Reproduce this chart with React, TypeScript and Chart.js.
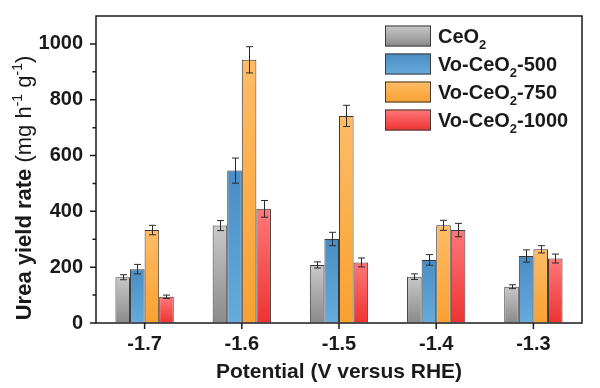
import React, { useEffect, useRef } from 'react';
import { Chart, registerables } from 'chart.js';

Chart.register(...registerables);

// ---- data ----
const categories = ['-1.7', '-1.6', '-1.5', '-1.4', '-1.3'];
const seriesNames = ['CeO₂', 'Vo-CeO₂-500', 'Vo-CeO₂-750', 'Vo-CeO₂-1000'];
const ceo2 = [164, 349, 208, 166, 130];
const ceo2Err = [9, 18, 11, 10, 7];
const vo500 = [193, 546, 301, 226, 240];
const vo500Err = [17, 45, 24, 19, 22];
const vo750 = [333, 943, 742, 350, 264];
const vo750Err = [17, 47, 38, 18, 13];
const vo1000 = [94, 409, 217, 333, 231];
const vo1000Err = [6, 30, 16, 24, 16];
const yMajorTicks = [0, 200, 400, 600, 800, 1000];
const yMinorTicks = [100, 300, 500, 700, 900];
const xTitle = 'Potential (V versus RHE)';
const yTitle = 'Urea yield rate (mg h⁻¹ g⁻¹)';

const seriesValues = [ceo2, vo500, vo750, vo1000];
const seriesErrors = [ceo2Err, vo500Err, vo750Err, vo1000Err];
const gradTop = ['#c9c9c9', '#4a8dc4', '#ffbc66', '#ff7878'];
const gradBottom = ['#8a8a8a', '#67abdc', '#f8a130', '#ee3232'];

const FONT = '"Liberation Sans", Arial, sans-serif';
const INK = '#1a1a1a';

type Seg = { t: string; bold: boolean; mode: 'n' | 'sub' | 'sup' };

function parseRich(s: string, boldAll: boolean, boldUntil?: string): Seg[] {
  const segs: Seg[] = [];
  const cut = boldUntil ? s.indexOf(boldUntil) : -1;
  for (let i = 0; i < s.length; i++) {
    const ch = s[i];
    const bold = boldAll || (cut >= 0 && i < cut);
    let mode: Seg['mode'] = 'n';
    let t = ch;
    if (ch === '₂') { mode = 'sub'; t = '2'; }
    else if (ch === '⁻') { mode = 'sup'; t = '-'; }
    else if (ch === '¹') { mode = 'sup'; t = '1'; }
    const last = segs[segs.length - 1];
    if (last && last.bold === bold && last.mode === mode) last.t += t;
    else segs.push({ t, bold, mode });
  }
  return segs;
}

function drawRich(ctx: CanvasRenderingContext2D, segs: Seg[], x: number, y: number, size: number, measureOnly = false): number {
  let cx = x;
  for (const s of segs) {
    const sz = s.mode === 'n' ? size : Math.round(size * 0.65);
    ctx.font = `${s.bold ? 'bold ' : ''}${sz}px ${FONT}`;
    const dy = s.mode === 'sub' ? size * 0.3 : s.mode === 'sup' ? -size * 0.42 : 0;
    if (!measureOnly) ctx.fillText(s.t, cx, y + dy);
    cx += ctx.measureText(s.t).width;
  }
  return cx - x;
}

function makeGrad(ctx: CanvasRenderingContext2D, i: number, yTop: number, yBot: number) {
  if (!isFinite(yTop) || !isFinite(yBot) || yTop === yBot) return gradTop[i];
  const g = ctx.createLinearGradient(0, yTop, 0, yBot);
  g.addColorStop(0, gradTop[i]);
  g.addColorStop(1, gradBottom[i]);
  return g;
}

const decorPlugin = {
  id: 'decor',
  afterDatasetsDraw(chart: any) {
    const { ctx, chartArea, scales } = chart;
    const ys = scales.y;
    const xs = scales.x;
    ctx.save();
    // error bars
    ctx.strokeStyle = '#2a2a2a';
    ctx.lineWidth = 1;
    chart.data.datasets.forEach((ds: any, di: number) => {
      const meta = chart.getDatasetMeta(di);
      meta.data.forEach((el: any, i: number) => {
        const v = seriesValues[di][i];
        const e = seriesErrors[di][i];
        const x = Math.round(el.x) + 0.5;
        const y1 = ys.getPixelForValue(v + e);
        const y2 = ys.getPixelForValue(v - e);
        ctx.beginPath();
        ctx.moveTo(x, y1);
        ctx.lineTo(x, y2);
        ctx.moveTo(x - 3.5, y1);
        ctx.lineTo(x + 3.5, y1);
        ctx.moveTo(x - 3.5, y2);
        ctx.lineTo(x + 3.5, y2);
        ctx.stroke();
      });
    });
    // frame
    ctx.strokeStyle = INK;
    ctx.lineWidth = 1.5;
    ctx.strokeRect(chartArea.left, chartArea.top, chartArea.right - chartArea.left, chartArea.bottom - chartArea.top);
    // ticks
    ctx.beginPath();
    yMajorTicks.forEach((v) => {
      const y = ys.getPixelForValue(v);
      ctx.moveTo(chartArea.left, y);
      ctx.lineTo(chartArea.left - 6, y);
    });
    yMinorTicks.forEach((v) => {
      const y = ys.getPixelForValue(v);
      ctx.moveTo(chartArea.left, y);
      ctx.lineTo(chartArea.left - 3.5, y);
    });
    categories.forEach((_, i) => {
      const x = xs.getPixelForValue(i);
      ctx.moveTo(x, chartArea.bottom);
      ctx.lineTo(x, chartArea.bottom + 6);
    });
    ctx.stroke();

    // x title
    ctx.fillStyle = INK;
    ctx.textBaseline = 'alphabetic';
    ctx.textAlign = 'center';
    ctx.font = `bold 21px ${FONT}`;
    ctx.fillText(xTitle, (chartArea.left + chartArea.right) / 2, 378);

    // y title (rotated)
    ctx.textAlign = 'left';
    const ysegs = parseRich(yTitle, false, '(');
    const w = drawRich(ctx, ysegs, 0, 0, 22, true);
    ctx.save();
    ctx.translate(31, 188);
    ctx.rotate(-Math.PI / 2);
    drawRich(ctx, ysegs, -w / 2, 0, 22);
    ctx.restore();

    // legend
    const lx = 385;
    const sw = 46;
    const sh = 21;
    seriesNames.forEach((name, i) => {
      const cy = 36 + i * 28;
      const top = cy - sh / 2;
      ctx.fillStyle = makeGrad(ctx, i, top, top + sh);
      ctx.fillRect(lx, top, sw, sh);
      ctx.strokeStyle = '#3a3a3a';
      ctx.lineWidth = 1;
      ctx.strokeRect(lx + 0.5, top + 0.5, sw - 1, sh - 1);
      ctx.fillStyle = INK;
      ctx.textBaseline = 'alphabetic';
      drawRich(ctx, parseRich(name, true), 438, cy + 7, 20);
    });
    ctx.restore();
  },
};

export default function App() {
  const ref = useRef<HTMLCanvasElement | null>(null);
  useEffect(() => {
    document.body.style.margin = '0';
    const canvas = ref.current!;
    const chart = new Chart(canvas, {
      type: 'bar',
      data: {
        labels: categories,
        datasets: seriesNames.map((name, i) => ({
          label: name,
          data: seriesValues[i],
          backgroundColor: (c: any) => {
            const ch = c.chart;
            if (!ch.scales || !ch.scales.y || c.type !== 'data') return gradTop[i];
            const ys = ch.scales.y;
            const v = seriesValues[i][c.dataIndex];
            return makeGrad(ch.ctx, i, ys.getPixelForValue(v), ys.getPixelForValue(0));
          },
          borderColor: '#3a3a3a',
          borderWidth: 1,
          categoryPercentage: 0.6,
          barPercentage: 1.0,
        })),
      },
      plugins: [decorPlugin],
      options: {
        responsive: false,
        animation: false,
        devicePixelRatio: 1,
        layout: { padding: { top: 16, right: 18, left: 0, bottom: 0 } },
        plugins: { legend: { display: false }, tooltip: { enabled: false } },
        scales: {
          x: {
            grid: { display: true, drawOnChartArea: false, drawTicks: false },
            border: { display: false },
            ticks: { color: INK, font: { family: FONT, weight: 'bold', size: 20 }, padding: 9 },
            afterFit: (s: any) => {
              s.height = 65;
              s.paddingLeft = 0;
              s.paddingRight = 0;
            },
          },
          y: {
            min: 0,
            max: 1100,
            grid: { display: true, drawOnChartArea: false, drawTicks: false },
            border: { display: false },
            ticks: {
              color: INK,
              font: { family: FONT, weight: 'bold', size: 20 },
              padding: 13,
              stepSize: 200,
              callback: (v: any) => String(v),
            },
            afterBuildTicks: (s: any) => {
              s.ticks = yMajorTicks.map((v) => ({ value: v }));
            },
            afterFit: (s: any) => {
              s.width = 96;
              s.paddingTop = 0;
              s.paddingBottom = 0;
            },
          },
        },
      } as any,
    });
    return () => chart.destroy();
  }, []);
  return (
    <div style={{ position: 'fixed', left: 0, top: 0, width: 600, height: 388, background: '#fff' }}>
      <canvas ref={ref} width={600} height={388} />
    </div>
  );
}
